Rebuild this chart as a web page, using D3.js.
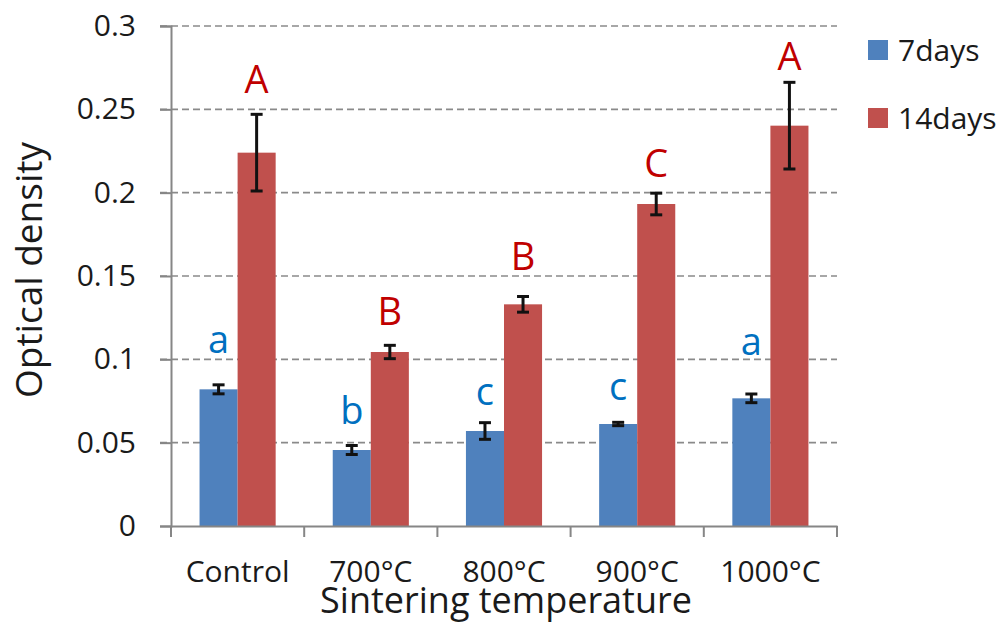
<!DOCTYPE html>
<html>
<head>
<meta charset="utf-8">
<script src="https://cdn.jsdelivr.net/npm/d3@7"></script>
<style>
  body { margin: 0; background: #fff; }
  svg { display: block; font-family: "Open Sans", sans-serif; }
</style>
</head>
<body>
<svg id="chart" width="1000" height="637"></svg>
<script>
// data
const categories = ["Control", "700°C", "800°C", "900°C", "1000°C"];
const seriesNames = ["7days", "14days"];
const values7 = [0.082, 0.0456, 0.057, 0.0612, 0.0766];
const errors7 = [0.0027, 0.0027, 0.005, 0.001, 0.0026];
const values14 = [0.224, 0.1044, 0.133, 0.1932, 0.2402];
const errors14 = [0.023, 0.004, 0.0047, 0.0065, 0.026];
// significance letters and the height (in data units) of their baseline
const letters7 = ["a", "b", "c", "c", "a"];
const letterAt7 = [0.1038, 0.0612, 0.0726, 0.0756, 0.1026];
const letters14 = ["A", "B", "B", "C", "A"];
const letterAt14 = [0.2598, 0.1206, 0.1536, 0.2094, 0.2736];
const yTicks = [0, 0.05, 0.1, 0.15, 0.2, 0.25, 0.3];

const barColors = {"7days": "#4f81bd", "14days": "#c0504d"};
const letterColors = {"7days": "#0070c0", "14days": "#c00000"};
const axisColor = "#868686";

const rows = [];
categories.forEach((c, i) => {
    rows.push({cat: c, s: "7days", v: values7[i], e: errors7[i], l: letters7[i], la: letterAt7[i]});
    rows.push({cat: c, s: "14days", v: values14[i], e: errors14[i], l: letters14[i], la: letterAt14[i]});
});

const svg = d3.select("#chart");
const mLeft = 171, mRight = 837, mTop = 26, mBottom = 526;

const y = d3.scaleLinear().domain([0, 0.3]).range([mBottom, mTop]);
const x = d3.scaleBand().domain(categories).range([mLeft, mRight]).padding(0);
const bw = x.bandwidth();
const barW = bw / 3.5; // excel gap width 150%
const x1 = d3.scaleBand().domain(seriesNames).range([barW * 0.75, bw - barW * 0.75]).padding(0);

// dashed gridlines (skip 0, that is the axis)
svg.append("g")
    .selectAll("line")
    .data(yTicks.filter(t => t > 0))
    .join("line")
    .attr("x1", mLeft - 11).attr("x2", mRight)
    .attr("y1", d => y(d)).attr("y2", d => y(d))
    .attr("stroke", "#8a8a8a")
    .attr("stroke-width", 1.6)
    .attr("stroke-dasharray", "7,4");

// y axis
const yAxis = svg.append("g")
    .attr("transform", `translate(${mLeft},0)`)
    .call(d3.axisLeft(y).tickValues(yTicks).tickSize(11).tickPadding(24)
        .tickFormat(d => String(+d.toFixed(2))));
yAxis.select(".domain").attr("stroke", axisColor).attr("stroke-width", 2);
yAxis.selectAll(".tick line").attr("stroke", axisColor).attr("stroke-width", 2);
yAxis.selectAll(".tick text")
    .attr("font-family", "Open Sans")
    .attr("font-size", 30)
    .attr("fill", "#1a1a1a");

// bars
const bars = svg.append("g");
bars.selectAll("rect")
    .data(rows)
    .join("rect")
    .attr("x", d => x(d.cat) + x1(d.s))
    .attr("width", x1.bandwidth())
    .attr("y", d => y(d.v))
    .attr("height", d => y(0) - y(d.v))
    .attr("fill", d => barColors[d.s]);

// error bars
const cx = d => x(d.cat) + x1(d.s) + x1.bandwidth() / 2;
const err = svg.append("g").attr("stroke", "#111").attr("stroke-width", 3);
err.selectAll("line.v")
    .data(rows).join("line").attr("class", "v")
    .attr("x1", cx).attr("x2", cx)
    .attr("y1", d => y(d.v + d.e)).attr("y2", d => y(d.v - d.e));
err.selectAll("line.t")
    .data(rows).join("line").attr("class", "t")
    .attr("x1", d => cx(d) - 6).attr("x2", d => cx(d) + 6)
    .attr("y1", d => y(d.v + d.e)).attr("y2", d => y(d.v + d.e));
err.selectAll("line.b")
    .data(rows).join("line").attr("class", "b")
    .attr("x1", d => cx(d) - 6).attr("x2", d => cx(d) + 6)
    .attr("y1", d => y(d.v - d.e)).attr("y2", d => y(d.v - d.e));

// x axis
const xAxis = svg.append("g")
    .attr("transform", `translate(0,${mBottom})`)
    .call(d3.axisBottom(x).tickSize(0).tickPadding(56));
xAxis.select(".domain").attr("stroke", axisColor).attr("stroke-width", 2);
xAxis.selectAll(".tick text")
    .attr("font-family", "Open Sans")
    .attr("font-size", 30)
    .attr("fill", "#1a1a1a")
    .attr("dy", "0");
// category boundary ticks
svg.append("g")
    .selectAll("line")
    .data(categories.concat(["end"]))
    .join("line")
    .attr("x1", (d, i) => mLeft + i * bw).attr("x2", (d, i) => mLeft + i * bw)
    .attr("y1", mBottom).attr("y2", mBottom + 11)
    .attr("stroke", axisColor).attr("stroke-width", 2);

// significance letters
svg.append("g")
    .selectAll("text")
    .data(rows)
    .join("text")
    .attr("x", cx)
    .attr("y", d => y(d.la))
    .attr("text-anchor", "middle")
    .attr("font-size", 38)
    .attr("fill", d => letterColors[d.s])
    .text(d => d.l);

// axis titles
svg.append("text")
    .attr("x", (mLeft + mRight) / 2 + 2)
    .attr("y", 613)
    .attr("text-anchor", "middle")
    .attr("font-size", 36)
    .attr("fill", "#1a1a1a")
    .text("Sintering temperature");
svg.append("text")
    .attr("transform", "translate(42,270) rotate(-90)")
    .attr("text-anchor", "middle")
    .attr("font-size", 37)
    .attr("fill", "#1a1a1a")
    .text("Optical density");

// legend
const legend = svg.append("g")
    .selectAll("g")
    .data(seriesNames)
    .join("g")
    .attr("transform", (d, i) => `translate(868,${40 + i * 68})`);
legend.append("rect")
    .attr("width", 20).attr("height", 20)
    .attr("fill", d => barColors[d]);
legend.append("text")
    .attr("x", 30).attr("y", 21)
    .attr("font-size", 30)
    .attr("fill", "#1a1a1a")
    .text(d => d);
</script>
</body>
</html>
